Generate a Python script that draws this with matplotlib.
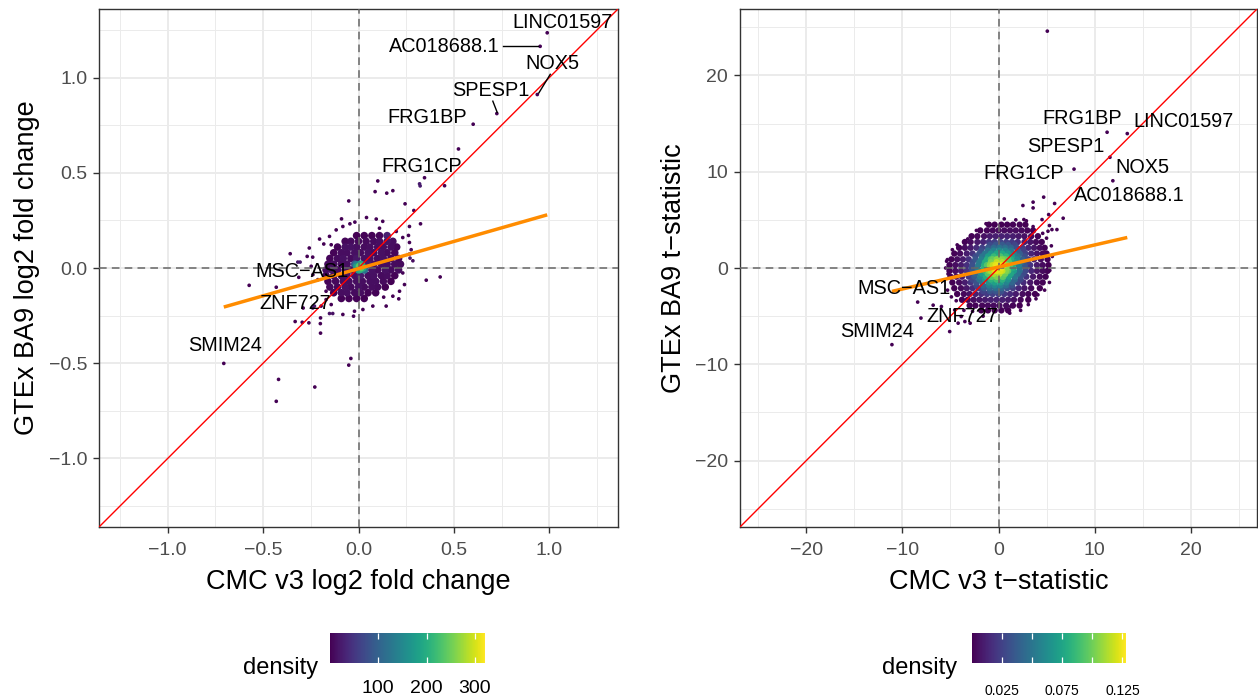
import numpy as np
import matplotlib
matplotlib.use("Agg")
import matplotlib.pyplot as plt
from matplotlib.colors import Normalize
from matplotlib.cm import ScalarMappable

plt.rcParams['font.family'] = ['Liberation Sans', 'DejaVu Sans']

# ---------------- data: left panel (log2 fold change) ----------------
# dense core of genes, listed row by row (y value, then x values in that row)
L_CORE_ROWS_Y = [0.17, 0.14, 0.11, 0.08, 0.05, 0.02, -0.01, -0.04, -0.07, -0.10, -0.13, -0.16]
L_CORE_ROWS_X = [
    [-0.01, 0.03, 0.07, 0.11, 0.15],
    [-0.07, -0.04, 0.00, 0.04, 0.08, 0.11, 0.15, 0.18],
    [-0.11, -0.07, -0.04, -0.01, 0.03, 0.06, 0.10, 0.13, 0.17, 0.20],
    [-0.13, -0.09, -0.06, -0.02, 0.01, 0.05, 0.08, 0.12, 0.15, 0.19],
    [-0.15, -0.11, -0.08, -0.04, -0.01, 0.03, 0.06, 0.10, 0.13, 0.17, 0.21],
    [-0.16, -0.13, -0.09, -0.06, -0.02, 0.01, 0.05, 0.08, 0.12, 0.15, 0.19, 0.22],
    [-0.17, -0.14, -0.11, -0.07, -0.04, 0.00, 0.03, 0.07, 0.10, 0.14, 0.17, 0.21],
    [-0.17, -0.13, -0.09, -0.06, -0.02, 0.01, 0.05, 0.08, 0.12, 0.15, 0.19],
    [-0.16, -0.12, -0.08, -0.05, -0.01, 0.02, 0.06, 0.09, 0.13, 0.17],
    [-0.15, -0.11, -0.07, -0.04, 0.00, 0.03, 0.07, 0.10, 0.14],
    [-0.13, -0.09, -0.06, -0.02, 0.01, 0.05, 0.09],
    [-0.09, -0.05, -0.01, 0.03],
]
# very dense centre
L_CENTER_X = [-0.012, 0.031, 0.005, 0.012, -0.004, 0.018, 0.008, 0.022, -0.008, 0.014]
L_CENTER_Y = [0.017, -0.009, 0.008, 0.002, -0.003, 0.012, -0.008, 0.000, 0.006, 0.018]
# scattered genes
L_SC_X = [0.989, 0.952, 0.937, 0.725, 0.601, 0.524,
          0.346, 0.323, 0.320, 0.451, 0.101, 0.087, 0.148, 0.180, 0.244, 0.290, -0.051, 0.325,
          0.267, 0.042, -0.019, -0.089, -0.117, -0.045, 0.093, 0.127, 0.198, 0.162, 0.110, -0.082,
          -0.152, -0.204, -0.182, -0.143, -0.258, -0.269, -0.358, -0.318, -0.306, -0.240, -0.248,
          -0.573, -0.431, -0.239, -0.213, -0.313, 0.355, 0.428, 0.270, 0.267, 0.285, 0.276, 0.232,
          0.262, 0.267, 0.211, 0.180, 0.132, 0.075, 0.023, -0.021, -0.026, -0.082, -0.135, -0.152,
          -0.196, -0.231, -0.200, -0.295, -0.260, -0.332, -0.199, -0.170, -0.170, -0.143, 0.145,
          0.215, 0.241, 0.232, -0.240, -0.290, -0.199,
          -0.706, -0.419, -0.431, -0.229, -0.051, -0.040]
L_SC_Y = [1.235, 1.164, 0.911, 0.811, 0.755, 0.625,
          0.474, 0.431, 0.442, 0.432, 0.457, 0.401, 0.393, 0.406, 0.337, 0.302, 0.352, 0.232,
          0.218, 0.265, 0.241, 0.258, 0.200, 0.232, 0.257, 0.245, 0.192, 0.166, 0.209, 0.218,
          0.166, 0.152, 0.126, 0.122, 0.105, 0.061, 0.075, 0.031, 0.031, 0.057, 0.009,
          -0.091, -0.101, -0.035, -0.061, -0.049, -0.064, -0.047, 0.052, 0.073, 0.038, 0.096, 0.160,
          0.171, 0.134, -0.162, -0.148, -0.153, -0.200, -0.218, -0.227, -0.253, -0.244, -0.239, -0.239,
          -0.200, -0.200, -0.292, -0.285, -0.288, -0.281, -0.342, -0.122, -0.166, -0.192, -0.200,
          -0.122, -0.087, -0.026, -0.210, -0.210, -0.262,
          -0.501, -0.585, -0.700, -0.625, -0.510, -0.475]
L_FIT = (0.2857, -0.0034)       # slope, intercept of the orange fit
L_DENS_MAX = 321                # colour-bar range
L_DENS_PEAK = 240               # highest density colour visible in the panel
L_LABELS = ['LINC01597', 'AC018688.1', 'NOX5', 'SPESP1', 'FRG1BP', 'FRG1CP',
            'MSC\u2212AS1', 'ZNF727', 'SMIM24']
L_LAB_X = [1.067, 0.452, 1.018, 0.693, 0.362, 0.329, -0.295, -0.334, -0.698]
L_LAB_Y = [1.287, 1.162, 1.073, 0.933, 0.790, 0.532, -0.018, -0.188, -0.406]
L_SEG = [((0.757, 1.164), (0.940, 1.164)), ((1.005, 1.017), (0.945, 0.919)),
         ((0.704, 0.876), (0.727, 0.817))]
L_TICKS = [-1.0, -0.5, 0.0, 0.5, 1.0]
L_TICKLABELS = ['\u22121.0', '\u22120.5', '0.0', '0.5', '1.0']
L_MINOR = [-1.25, -0.75, -0.25, 0.25, 0.75, 1.25]
L_LIM = 1.36

# ---------------- data: right panel (t-statistic) ----------------
R_CORE_ROWS_Y = [4.5, 3.9, 3.3, 2.7, 2.1, 1.5, 0.9, 0.3, -0.3, -0.9, -1.5, -2.1, -2.7, -3.3, -3.9, -4.4]
R_CORE_ROWS_X = [
    [-1.0, -0.4, 0.3, 0.9, 1.5, 2.2, 2.8],
    [-1.9, -1.2, -0.6, 0.0, 0.6, 1.2, 1.8, 2.4, 3.0, 3.6],
    [-2.8, -2.2, -1.5, -0.9, -0.3, 0.3, 0.9, 1.5, 2.1, 2.7, 3.4, 4.1],
    [-3.5, -2.9, -2.2, -1.6, -1.0, -0.4, 0.2, 0.8, 1.4, 2.0, 2.7, 3.3, 3.9, 4.5],
    [-4.1, -3.5, -2.9, -2.3, -1.7, -1.1, -0.5, 0.1, 0.7, 1.3, 1.9, 2.5, 3.1, 3.7, 4.3, 4.8],
    [-4.6, -4.0, -3.3, -2.7, -2.0, -1.4, -0.8, -0.2, 0.4, 1.0, 1.6, 2.2, 2.8, 3.4, 4.0, 4.6, 5.0],
    [-4.9, -4.3, -3.7, -3.1, -2.4, -1.8, -1.2, -0.6, 0.1, 0.7, 1.3, 1.9, 2.5, 3.1, 3.7, 4.4, 5.1],
    [-5.1, -4.5, -3.9, -3.3, -2.7, -2.1, -1.5, -0.9, -0.3, 0.3, 0.9, 1.5, 2.1, 2.7, 3.3, 4.0, 4.6, 5.2],
    [-5.1, -4.5, -3.9, -3.3, -2.6, -2.0, -1.4, -0.8, -0.2, 0.4, 1.0, 1.6, 2.2, 2.8, 3.4, 4.0, 4.6, 5.1],
    [-5.0, -4.4, -3.8, -3.1, -2.5, -1.9, -1.3, -0.7, -0.1, 0.5, 1.1, 1.7, 2.3, 2.9, 3.6, 4.3, 4.9],
    [-4.8, -4.1, -3.5, -2.9, -2.3, -1.7, -1.0, -0.4, 0.2, 0.8, 1.4, 2.0, 2.6, 3.3, 4.0, 4.6],
    [-4.6, -3.9, -3.3, -2.7, -2.1, -1.5, -0.9, -0.3, 0.3, 0.9, 1.5, 2.1, 2.7, 3.4, 4.3],
    [-4.3, -3.6, -3.0, -2.4, -1.8, -1.2, -0.6, 0.0, 0.6, 1.2, 1.8, 2.5, 3.1, 3.8],
    [-3.8, -3.2, -2.6, -2.0, -1.4, -0.8, -0.2, 0.4, 1.0, 1.6, 2.3, 3.1],
    [-3.0, -2.4, -1.7, -1.1, -0.5, 0.1, 0.8, 1.5, 2.2],
    [-1.8, -1.1, -0.4, 0.3, 1.0],
]
# genes packed more densely towards the centre
R_INNER_ROWS_Y = [2.4, 1.8, 1.2, 0.6, 0.0, -0.6, -1.2, -1.8, -2.4]
R_INNER_ROWS_X = [
    [-0.9, -0.3, 0.4, 1.0, 1.7],
    [-1.8, -1.1, -0.5, 0.1, 0.7, 1.3, 2.0, 2.6],
    [-2.4, -1.7, -1.1, -0.5, 0.2, 0.8, 1.4, 2.0, 2.7],
    [-2.7, -2.0, -1.4, -0.8, -0.2, 0.4, 1.1, 1.7, 2.4, 3.0],
    [-2.8, -2.2, -1.5, -0.9, -0.3, 0.3, 0.9, 1.5, 2.2, 2.8],
    [-3.0, -2.4, -1.7, -1.1, -0.5, 0.1, 0.7, 1.3, 2.0, 2.6],
    [-2.7, -2.0, -1.4, -0.8, -0.2, 0.4, 1.0, 1.7, 2.3],
    [-2.3, -1.6, -1.0, -0.4, 0.2, 0.8, 1.4],
    [-1.6, -0.9, -0.3, 0.3],
]
R_CENTER_ROWS_Y = [0.9, 0.3, -0.3, -0.9]
R_CENTER_ROWS_X = [
    [-0.8, -0.2, 0.4, 1.0],
    [-1.2, -0.6, 0.0, 0.6, 1.2],
    [-1.0, -0.4, 0.2, 0.8],
    [-0.8, -0.2, 0.4],
]
R_SC_X = [5.08, 11.3, 13.4, 11.6, 11.9, 7.86, -11.09,
          4.70, 3.60, 3.60, 2.54, 5.84, 6.73, 6.08, 5.56, 5.22, 4.53, 5.30, 5.15, 2.64,
          -3.20, -3.47, -5.40, -5.50, -5.25, -5.32, -8.41, -6.80, -8.07, -5.08, -5.94, -2.95,
          -4.20, -4.56, -3.50, -3.88, 1.17, 0.75, 1.27, 4.10, 5.05, 5.34,
          5.6, 5.5, 5.0, 4.6, 3.6, 2.9, 1.8, 0.6, -1.3, -2.3, -4.3, -4.8, -5.3, -4.9,
          -4.4, -3.6, -2.7, -1.6, 2.3, 3.1, 3.9, 4.8, 5.3]
R_SC_Y = [24.6, 14.1, 13.96, 11.5, 9.06, 10.27, -7.96,
          7.36, 6.84, 6.24, 6.49, 6.70, 5.17, 3.99, 3.99, 5.55, 5.03, 4.41, 3.82, 5.03,
          3.02, 2.67, 0.70, 0.00, -0.62, 0.87, -3.54, -3.86, -5.20, -6.60, -4.00, -5.73,
          -5.73, -4.36, -5.56, -5.04, -4.69, -4.17, -4.00, -2.78, -0.34, -0.25,
          1.2, 2.3, 3.1, 3.6, 4.3, 4.9, 5.0, 5.1, 4.6, 3.9, 2.4, 1.9, -2.3, -3.0,
          -3.4, -4.4, -4.5, -5.0, -4.4, -3.8, -3.2, -2.3, -1.5]
R_FIT = (0.2286, 0.105)
R_DENS_MAX = 0.128
R_DENS_PEAK = 0.125
R_LABELS = ['FRG1BP', 'LINC01597', 'SPESP1', 'NOX5', 'FRG1CP', 'AC018688.1',
            'MSC\u2212AS1', 'ZNF727', 'SMIM24']
R_LAB_X = [8.72, 19.24, 6.97, 14.98, 2.66, 13.6, -9.86, -3.79, -12.6]
R_LAB_Y = [15.48, 15.19, 12.6, 10.43, 9.8, 7.55, -2.18, -4.99, -6.55]
R_TICKS = [-20, -10, 0, 10, 20]
R_TICKLABELS = ['\u221220', '\u221210', '0', '10', '20']
R_MINOR = [-25, -15, -5, 5, 15, 25]
R_LIM = 26.9

CB_L_TICKS = [100, 200, 300]
CB_L_LABELS = ['100', '200', '300']
CB_R_TICKS = [0.025, 0.05, 0.075, 0.1, 0.125]
CB_R_LABELS = ['0.025', '', '0.075', '', '0.125']


def rows_to_xy(rows_y, rows_x):
    xs, ys = [], []
    for yv, row in zip(rows_y, rows_x):
        xs += list(row)
        ys += [yv] * len(row)
    return xs, ys


def kde(x, y, bw):
    dx = (x[:, None] - x[None, :]) / bw
    dy = (y[:, None] - y[None, :]) / bw
    return np.exp(-0.5 * (dx ** 2 + dy ** 2)).sum(1)


W, H = 1258, 698
fig = plt.figure(figsize=(W / 100, H / 100), dpi=100)
axL = fig.add_axes([99 / W, 1 - 527 / H, 519 / W, 518 / H])
axR = fig.add_axes([740 / W, 1 - 527 / H, 517 / W, 518 / H])


def panel(ax, core_parts, scx, scy, bw, gamma, dmax, dpeak, core_s, fit, lim, ticks,
          ticklabels, minor, labels, labx, laby, segs, xlabel, ylabel):
    cx, cy = [], []
    for px, py in core_parts:
        cx += list(px)
        cy += list(py)
    cx = np.array(cx); cy = np.array(cy)
    sx = np.array(scx); sy = np.array(scy)
    ax_all = np.concatenate([cx, sx]); ay_all = np.concatenate([cy, sy])
    d = kde(ax_all, ay_all, bw)
    ncore = len(cx)
    d0 = d[:ncore].min()
    t = np.clip((d - d0) / (d.max() - d0), 0, 1)
    val = dpeak * t ** gamma
    sizes = np.concatenate([np.full(ncore, core_s), np.full(len(sx), 7.0)])
    order = np.argsort(val, kind='stable')
    ax.scatter(ax_all[order], ay_all[order], c=val[order], s=sizes[order], cmap='viridis',
               norm=Normalize(0, dmax), linewidths=0, zorder=2)

    ax.axhline(0, color='#666666', lw=1.1, ls=(0, (5, 3.4)), zorder=3)
    ax.axvline(0, color='#666666', lw=1.1, ls=(0, (5, 3.4)), zorder=3)
    ax.axline((0, 0), slope=1, color='#FF0000', lw=1.0, zorder=4)
    xs = np.array([ax_all.min(), ax_all.max()])
    ax.plot(xs, fit[1] + fit[0] * xs, color='#FF8C00', lw=2.5, zorder=5,
            solid_capstyle='butt')
    for (p0, p1) in segs:
        ax.plot([p0[0], p1[0]], [p0[1], p1[1]], color='black', lw=1.0, zorder=6)
    for txt, x, y in zip(labels, labx, laby):
        ax.text(x, y, txt, ha='center', va='center', fontsize=14.3, color='black', zorder=7)

    ax.set_xlim(-lim, lim); ax.set_ylim(-lim, lim)
    ax.set_xticks(ticks); ax.set_yticks(ticks)
    ax.set_xticklabels(ticklabels); ax.set_yticklabels(ticklabels)
    ax.set_xticks(minor, minor=True); ax.set_yticks(minor, minor=True)
    ax.grid(which='major', color='#EBEBEB', lw=1.4, zorder=0)
    ax.grid(which='minor', color='#EBEBEB', lw=0.7, zorder=0)
    ax.set_axisbelow(True)
    ax.tick_params(which='minor', length=0)
    ax.tick_params(which='major', length=4, width=1.0, color='#333333',
                   labelcolor='#4D4D4D', labelsize=14)
    ax.tick_params(axis='x', which='major', pad=7)
    ax.tick_params(axis='y', which='major', pad=4.5)
    for s in ax.spines.values():
        s.set_color('#333333'); s.set_linewidth(1.0)
    ax.set_xlabel(xlabel, fontsize=19.5, labelpad=7)
    ax.set_ylabel(ylabel, fontsize=19.5, labelpad=6)


lcx, lcy = rows_to_xy(L_CORE_ROWS_Y, L_CORE_ROWS_X)
panel(axL, [(lcx, lcy), (L_CENTER_X, L_CENTER_Y)], L_SC_X, L_SC_Y, 0.015, 1.0,
      L_DENS_MAX, L_DENS_PEAK, 30.0,
      L_FIT, L_LIM, L_TICKS, L_TICKLABELS, L_MINOR, L_LABELS, L_LAB_X, L_LAB_Y, L_SEG,
      'CMC v3 log2 fold change', 'GTEx BA9 log2 fold change')

r1 = rows_to_xy(R_CORE_ROWS_Y, R_CORE_ROWS_X)
r2 = rows_to_xy(R_INNER_ROWS_Y, R_INNER_ROWS_X)
r3 = rows_to_xy(R_CENTER_ROWS_Y, R_CENTER_ROWS_X)
panel(axR, [r1, r2, r3], R_SC_X, R_SC_Y, 1.0, 2.0, R_DENS_MAX, R_DENS_PEAK, 21.0,
      R_FIT, R_LIM, R_TICKS, R_TICKLABELS, R_MINOR, R_LABELS, R_LAB_X, R_LAB_Y, [],
      'CMC v3 t\u2212statistic', 'GTEx BA9 t\u2212statistic')


def colorbar(rect, dmax, ticks, labels, fs, pad, title_x):
    cax = fig.add_axes(rect)
    cb = fig.colorbar(ScalarMappable(norm=Normalize(0, dmax), cmap='viridis'), cax=cax,
                      orientation='horizontal')
    cb.outline.set_visible(False)
    cb.set_ticks(ticks)
    cb.set_ticklabels(labels)
    cax.tick_params(length=0, labelsize=fs, pad=pad, labelcolor='black')
    tr = cax.get_xaxis_transform()
    cax.vlines(ticks, 0, 0.2, colors='white', lw=0.9, transform=tr)
    cax.vlines(ticks, 0.8, 1.0, colors='white', lw=0.9, transform=tr)
    fig.text(title_x / W, 1 - 674 / H, 'density', ha='right', va='baseline', fontsize=17)


colorbar([330 / W, 1 - 663 / H, 155 / W, 30 / H], L_DENS_MAX, CB_L_TICKS, CB_L_LABELS,
         14, 12, 318)
colorbar([972 / W, 1 - 663 / H, 154 / W, 30 / H], R_DENS_MAX, CB_R_TICKS, CB_R_LABELS,
         10, 15, 957)

fig.savefig('out.png', dpi=100)
